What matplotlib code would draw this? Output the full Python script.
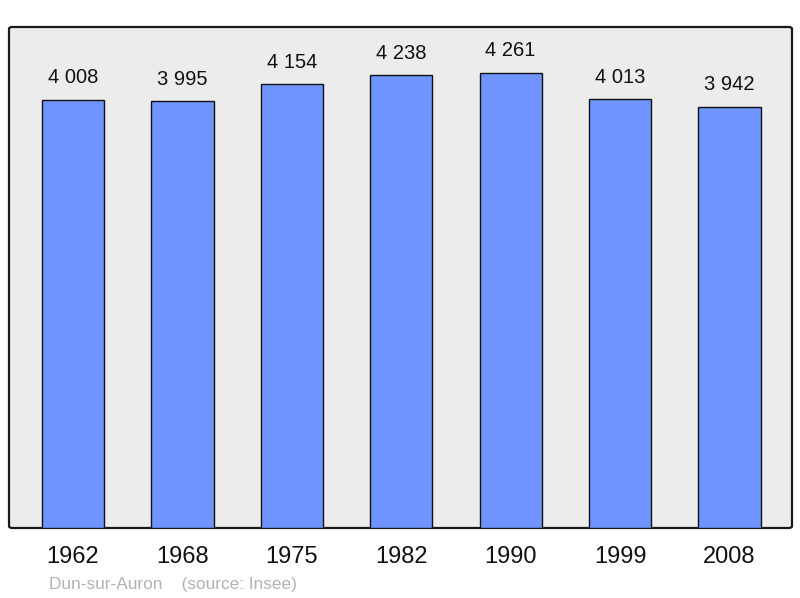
import matplotlib.pyplot as plt
from matplotlib.patches import FancyBboxPatch

plt.rcParams['font.family'] = ['Liberation Sans', 'DejaVu Sans']

# population data
years = ['1962', '1968', '1975', '1982', '1990', '1999', '2008']
population = [4008, 3995, 4154, 4238, 4261, 4013, 3942]
value_labels = ['4 008', '3 995', '4 154', '4 238', '4 261', '4 013', '3 942']

fig = plt.figure(figsize=(8, 5.98), dpi=100)
ax = fig.add_axes([9 / 800, 70 / 598, 783 / 800, 501 / 598])
ax.set_facecolor('none')

# grey panel with rounded border
panel = FancyBboxPatch((0, 0), 1, 1, boxstyle='round,pad=0,rounding_size=0.004',
                       transform=ax.transAxes, facecolor='#ececec',
                       edgecolor='#1a1a1a', linewidth=1.6, zorder=0, clip_on=False)
ax.add_patch(panel)

x = range(len(years))
ax.bar(x, population, width=0.57, color='#7094ff', edgecolor='#111111',
       linewidth=1.0, zorder=2)

for xi, v, lab in zip(x, population, value_labels):
    ax.annotate(lab, (xi, v), xytext=(0, 9), textcoords='offset points',
                ha='center', va='bottom', fontsize=14.5, color='#111111')

ax.set_xlim(-0.585, 6.571)
ax.set_ylim(0, 4690)
for s in ax.spines.values():
    s.set_visible(False)
ax.set_yticks([])
ax.set_xticks(list(x))
ax.set_xticklabels(years, fontsize=17, color='#111111')
ax.tick_params(axis='x', length=0, pad=13)

fig.text(49 / 800, 1 - 584 / 598, 'Dun-sur-Auron    (source: Insee)',
         fontsize=12.4, color='#b3b3b3', ha='left', va='center')

fig.savefig('out.png', dpi=100)
